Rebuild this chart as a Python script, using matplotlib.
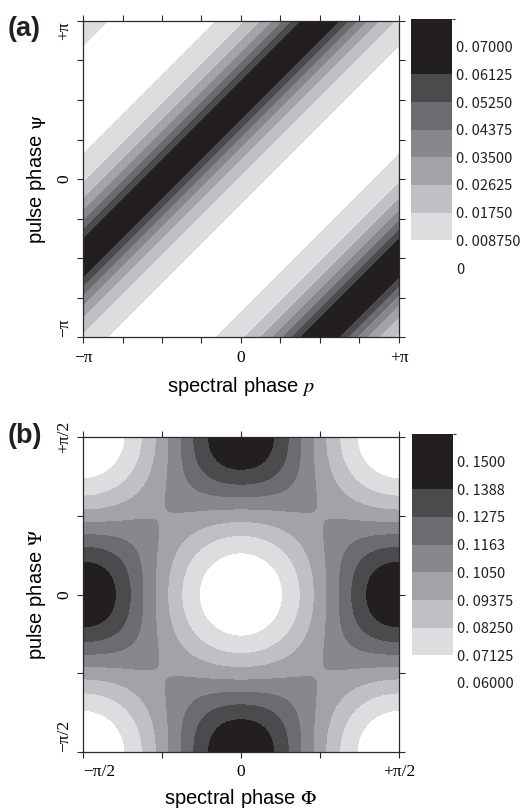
import numpy as np
import matplotlib
matplotlib.use('Agg')
import matplotlib.pyplot as plt
import matplotlib.transforms as mtrans
from matplotlib.colors import ListedColormap, BoundaryNorm

plt.rcParams['mathtext.fontset'] = 'stix'

# ---------------- data ----------------
levels_a = [0, 0.00875, 0.0175, 0.02625, 0.035, 0.04375, 0.0525, 0.06125, 0.07, 0.07875]
labels_a = ['0', '0. 008750', '0. 01750', '0. 02625', '0. 03500', '0. 04375',
            '0. 05250', '0. 06125', '0. 07000']
levels_b = [0.06, 0.07125, 0.0825, 0.09375, 0.105, 0.11625, 0.1275, 0.13875, 0.15, 0.16125]
labels_b = ['0. 06000', '0. 07125', '0. 08250', '0. 09375', '0. 1050', '0. 1163',
            '0. 1275', '0. 1388', '0. 1500']
gray_fills = ['#ffffff', '#dcdddf', '#bfc0c3', '#a2a3a6', '#87888b', '#6b6c6f',
              '#4a4b4d', '#231f20', '#231f20']

xtick_labels_a = ['\u2212\u03c0', '', '', '', '0', '', '', '', '+\u03c0']
xtick_labels_b = ['\u2212\u03c0/2', '', '0', '', '+\u03c0/2']

# model parameters of the plotted fields
a_amp, a_sharp, a_offset, a_center = 0.0846, 3.57, -0.0146, np.pi / 2
b_mean, b_cross, b_harm, b_harm_cross = 0.1018, 0.045, 0.0001, 0.003

# ---------------- fields ----------------
pa = np.linspace(-np.pi, np.pi, 601)
P, S = np.meshgrid(pa, pa)
Fa = a_amp / (1 + a_sharp * np.sin((S - P - a_center) / 2) ** 2) + a_offset

pb = np.linspace(-np.pi / 2, np.pi / 2, 601)
PH, PS = np.meshgrid(pb, pb)
Fb = (b_mean - b_cross * np.cos(2 * PH) * np.cos(2 * PS)
      + b_harm * (np.cos(4 * PH) + np.cos(4 * PS))
      + b_harm_cross * np.cos(4 * PH) * np.cos(4 * PS))

W, H = 520, 811
fig = plt.figure(figsize=(W / 100, H / 100), dpi=100)

def fr(x0, y0, x1, y1):
    return [x0 / W, 1 - y1 / H, (x1 - x0) / W, (y1 - y0) / H]

serif = 'Liberation Serif'
sans = 'Liberation Sans'
spine_col = '#2a2a2a'

def shift(artist, dx_px, dy_px):
    artist.set_transform(artist.get_transform() +
                         mtrans.Affine2D().translate(dx_px, dy_px))

def panel(ax_rect, cax_rect, X, Y, F, levels, cb_labels, lim, xt_labels, xlabel, ylabel,
          tag, tag_y, ylab_align, top_shift, xlab_first_left, xlabelpad):
    ax = fig.add_axes(fr(*ax_rect))
    cmap = ListedColormap(gray_fills)
    norm = BoundaryNorm(levels, cmap.N)
    cs = ax.contourf(X, Y, F, levels=levels, cmap=cmap, norm=norm, antialiased=False)
    ax.set_xlim(-lim, lim)
    ax.set_ylim(-lim, lim)
    n = len(xt_labels)
    ticks = np.linspace(-lim, lim, n)
    ax.set_xticks(ticks)
    ax.set_yticks(ticks)
    ax.set_xticklabels(xt_labels, fontfamily=serif, fontsize=12.5)
    ax.set_yticklabels(xt_labels, fontfamily=serif, fontsize=12.5, rotation=90)
    ylbls = ax.get_yticklabels()
    for i, lbl in enumerate(ylbls):
        if i == 0:
            lbl.set_va(ylab_align[0])
        elif i == n - 1:
            lbl.set_va(ylab_align[1])
            if top_shift:
                shift(lbl, 0, top_shift)
        else:
            lbl.set_va('center')
    if xlab_first_left:
        ax.get_xticklabels()[0].set_ha('left')
        shift(ax.get_xticklabels()[0], -4, 0)
    ax.tick_params(axis='both', which='both', direction='out', length=4, width=0.8,
                   color=spine_col, top=True, right=True, pad=4)
    ax.tick_params(axis='x', pad=5)
    for sp in ax.spines.values():
        sp.set_color(spine_col)
        sp.set_linewidth(0.9)
    ax.set_xlabel(xlabel, fontfamily=sans, fontsize=14.5, labelpad=xlabelpad)
    ax.set_ylabel(ylabel, fontfamily=sans, fontsize=14.5, labelpad=6)

    cax = fig.add_axes(fr(*cax_rect))
    cb = fig.colorbar(cs, cax=cax)
    cb.outline.set_visible(False)
    cb.set_ticks(levels[:-1])
    cb.set_ticklabels(cb_labels)
    cax.tick_params(length=0, pad=3)
    for t in cax.get_yticklabels():
        t.set_fontfamily(['Noto Sans CJK JP', 'DejaVu Sans'])
        t.set_fontsize(10.5)
        t.set_color('#231f20')
    fig.text(8 / W, 1 - tag_y / H, tag, fontfamily=sans, fontweight='bold',
             fontsize=19.5, ha='left', va='baseline', color='#231f20')
    return ax

panel((83, 21, 399, 337), (411, 19, 452, 268), P, S, Fa, levels_a, labels_a, np.pi,
      xtick_labels_a, r'spectral phase $p$', r'pulse phase $\mathrm{\psi}$', '(a)', 36,
      ('bottom', 'top'), 0, False, 7)
panel((83, 437, 399, 752), (412, 434, 453, 683), PH, PS, Fb, levels_b, labels_b, np.pi / 2,
      xtick_labels_b, r'spectral phase $\Phi$', r'pulse phase $\Psi$', '(b)', 443,
      ('bottom', 'center'), 6, True, 5)

fig.savefig('out.png', dpi=100)
